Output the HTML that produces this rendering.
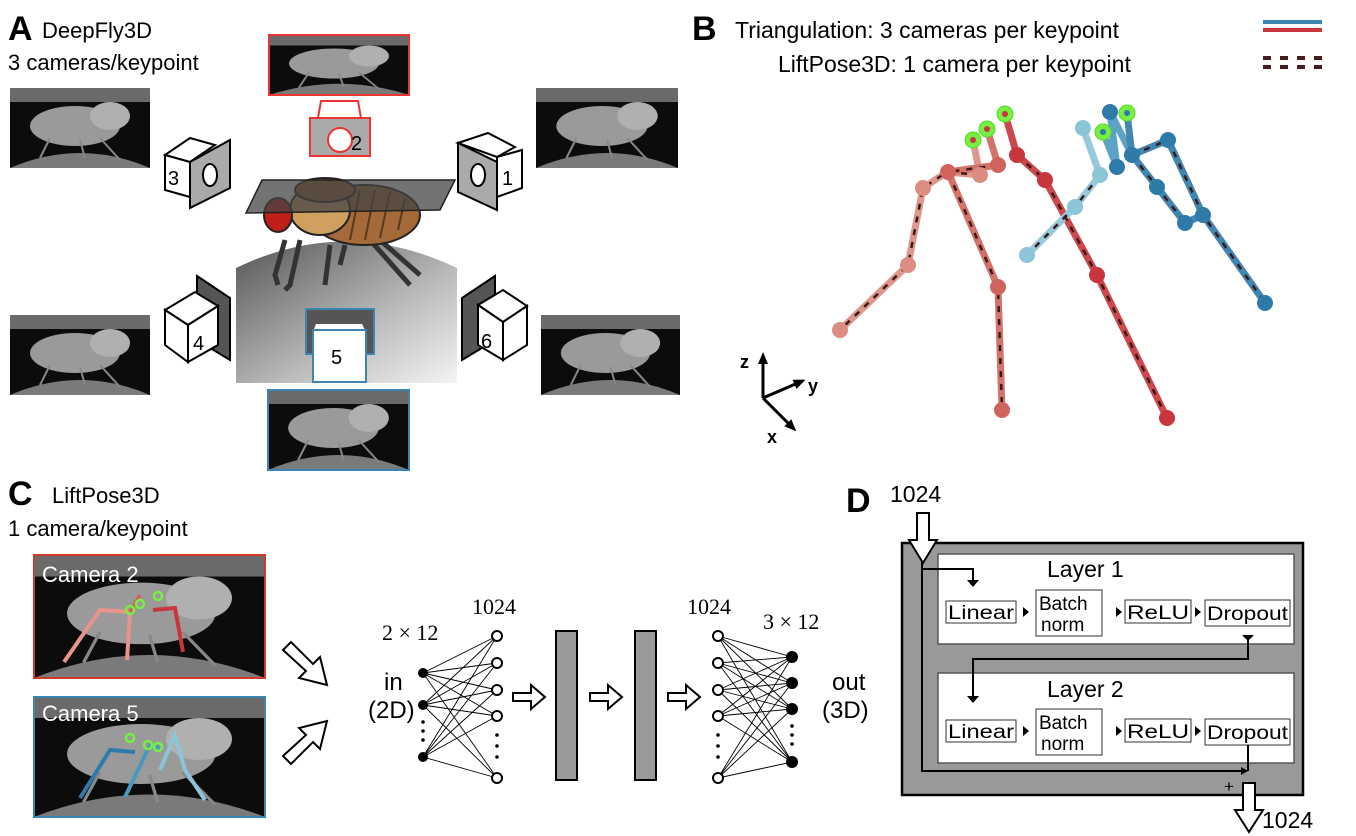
<!DOCTYPE html>
<html><head><meta charset="utf-8"><style>
html,body{margin:0;padding:0;background:#fff;}
svg{display:block;font-family:"Liberation Sans",sans-serif;}
</style></head><body>
<svg width="1356" height="836" viewBox="0 0 1356 836" xmlns="http://www.w3.org/2000/svg">
<defs>
<symbol id="th" viewBox="0 0 140 80" preserveAspectRatio="none">
<rect width="140" height="80" fill="#0c0c0c"/>
<rect width="140" height="14" fill="#6a6a6a"/>
<ellipse cx="65" cy="38" rx="45" ry="20" fill="#9a9a9a"/>
<ellipse cx="100" cy="28" rx="20" ry="14" fill="#b0b0b0"/>
<path d="M0 80 Q70 50 140 80Z" fill="#7a7a7a"/>
<g stroke="#888" stroke-width="2"><line x1="40" y1="50" x2="30" y2="70"/><line x1="70" y1="52" x2="75" y2="70"/><line x1="90" y1="50" x2="110" y2="72"/></g>
</symbol>
<linearGradient id="dome" x1="0" y1="0" x2="1" y2="1"><stop offset="0" stop-color="#555"/><stop offset="0.6" stop-color="#bbb"/><stop offset="1" stop-color="#f4f4f4"/></linearGradient>
<marker id="ah" markerUnits="userSpaceOnUse" markerWidth="12" markerHeight="12" refX="6" refY="6" orient="auto"><path d="M0,1 L12,6 L0,11Z" fill="#000"/></marker>
</defs>

<!-- Panel A -->
<text x="8" y="40" font-size="34" font-weight="bold">A</text>
<text x="42" y="38" font-size="22">DeepFly3D</text>
<text x="8" y="70" font-size="22">3 cameras/keypoint</text>
<use href="#th" x="10" y="88" width="140" height="80"/>
<use href="#th" x="536" y="88" width="142" height="80"/>
<use href="#th" x="10" y="315" width="140" height="80"/>
<use href="#th" x="541" y="315" width="139" height="80"/>
<use href="#th" x="269" y="35" width="140" height="60"/>
<rect x="269" y="35" width="140" height="60" fill="none" stroke="#e33" stroke-width="2"/>
<use href="#th" x="268" y="390" width="141" height="80"/>
<rect x="268" y="390" width="141" height="80" fill="none" stroke="#3a86b0" stroke-width="2"/>
<path d="M236 268 Q346 215 457 268 L457 383 L236 383Z" fill="url(#dome)"/>
<path d="M321 101 L358 101 L361 118 L318 118Z" fill="#fff" stroke="#e33" stroke-width="2"/>
<rect x="310" y="118" width="60" height="38" fill="#aaa" stroke="#e33" stroke-width="2"/>
<circle cx="340" cy="140" r="12" fill="#fff" stroke="#e33" stroke-width="2"/>
<text x="351" y="150" font-size="20">2</text>
<path d="M165 155 L190 138 L215 145 L190 162Z" fill="#fff" stroke="#000" stroke-width="2"/>
<path d="M165 155 L190 162 L190 197 L165 190Z" fill="#fff" stroke="#000" stroke-width="2"/>
<path d="M190 162 L230 140 L230 188 L190 208Z" fill="#aaa" stroke="#000" stroke-width="2"/>
<text x="168" y="185" font-size="20">3</text>
<ellipse cx="210" cy="175" rx="7" ry="11" fill="#fff" stroke="#000" stroke-width="2"/>
<path d="M458 143 L488 133 L515 147 L497 157Z" fill="#fff" stroke="#000" stroke-width="2"/>
<path d="M497 157 L522 150 L522 188 L497 197Z" fill="#fff" stroke="#000" stroke-width="2"/>
<path d="M458 143 L497 162 L497 210 L458 192Z" fill="#aaa" stroke="#000" stroke-width="2"/>
<ellipse cx="478" cy="175" rx="7" ry="11" fill="#fff" stroke="#000" stroke-width="2"/>
<text x="502" y="185" font-size="20">1</text>
<path d="M197 276 L230 298 L230 360 L197 340Z" fill="#555" stroke="#000" stroke-width="2"/>
<path d="M165 310 L195 292 L218 306 L188 325Z" fill="#fff" stroke="#000" stroke-width="2"/>
<path d="M165 310 L188 325 L188 362 L165 345Z" fill="#fff" stroke="#000" stroke-width="2"/>
<path d="M188 325 L218 306 L218 345 L188 362Z" fill="#fff" stroke="#000" stroke-width="2"/>
<text x="193" y="350" font-size="20">4</text>
<path d="M495 276 L462 298 L462 360 L495 340Z" fill="#555" stroke="#000" stroke-width="2"/>
<path d="M478 305 L503 290 L527 306 L503 322Z" fill="#fff" stroke="#000" stroke-width="2"/>
<path d="M478 305 L503 322 L503 360 L478 345Z" fill="#fff" stroke="#000" stroke-width="2"/>
<path d="M503 322 L527 306 L527 345 L503 360Z" fill="#fff" stroke="#000" stroke-width="2"/>
<text x="481" y="348" font-size="20">6</text>
<rect x="306" y="309" width="68" height="45" fill="#555" stroke="#3a86b0" stroke-width="2"/>
<path d="M316 324 L362 324 L366 332 L313 332Z" fill="#fff"/>
<rect x="313" y="330" width="53" height="52" fill="#fff" stroke="#3a86b0" stroke-width="2"/>
<text x="331" y="364" font-size="20">5</text>
<g stroke="#222" stroke-width="2">
<g stroke-width="5" stroke="#333" fill="none"><path d="M285 240 L275 275 L278 285"/><path d="M300 240 L290 285 L285 290"/><path d="M330 245 L325 285"/><path d="M345 245 L340 265"/><path d="M380 240 L420 275"/><path d="M370 240 L410 285"/></g>
<ellipse cx="365" cy="215" rx="55" ry="30" fill="#a56a3a"/>
<g stroke="#5a3a1a" stroke-width="2"><line x1="360" y1="190" x2="350" y2="240"/><line x1="375" y1="190" x2="365" y2="240"/><line x1="390" y1="192" x2="380" y2="238"/><line x1="405" y1="198" x2="398" y2="230"/></g>
<ellipse cx="320" cy="210" rx="30" ry="25" fill="#d0a060"/>
<ellipse cx="325" cy="190" rx="30" ry="12" fill="#9a6030"/>
<ellipse cx="278" cy="215" rx="14" ry="17" fill="#c0201a"/>
</g>
<path d="M262 180 L455 180 L440 210 L246 213Z" fill="#444" fill-opacity="0.75" stroke="#222" stroke-width="1.5"/>

<!-- Panel B -->
<text x="692" y="40" font-size="34" font-weight="bold">B</text>
<text x="735" y="38" font-size="23">Triangulation: 3 cameras per keypoint</text>
<text x="778" y="72" font-size="23">LiftPose3D: 1 camera per keypoint</text>
<line x1="1263" y1="22" x2="1322" y2="22" stroke="#3a86b0" stroke-width="4"/>
<line x1="1263" y1="30" x2="1322" y2="30" stroke="#c8353a" stroke-width="4"/>
<line x1="1263" y1="58" x2="1322" y2="58" stroke="#4a1a20" stroke-width="4" stroke-dasharray="8 9"/>
<line x1="1263" y1="67" x2="1322" y2="67" stroke="#4a1a20" stroke-width="4" stroke-dasharray="8 9"/>
<g fill="none" stroke-width="7" stroke-linejoin="round" stroke-linecap="round" opacity="0.9">
<polyline points="973,140 980,175 947,172 923,188 908,265 840,330" stroke="#dc8c80"/>
<polyline points="987,129 998,165 948,172 998,287 1002,410" stroke="#d0645c"/>
<polyline points="1005,114 1017,155 1045,180 1097,275 1167,418" stroke="#c8353a"/>
<polyline points="1083,128 1100,175 1075,207 1027,255" stroke="#8cc4d8"/>
<polyline points="1103,132 1117,167 1110,112 1132,155" stroke="#4a98c0"/>
<polyline points="1127,113 1132,155 1168,140 1203,215 1265,303" stroke="#2e7aa8"/>
<polyline points="1132,155 1157,187 1185,223 1203,215" stroke="#2e7aa8"/>
</g>
<g fill="none" stroke="#3a1a1a" stroke-width="2.5" stroke-dasharray="6 7">
<polyline points="980,175 947,172 923,188 908,265 840,330"/>
<polyline points="998,165 948,172 998,287 1002,410"/>
<polyline points="1017,155 1045,180 1097,275 1167,418"/>
<polyline points="1100,175 1075,207 1027,255"/>
<polyline points="1132,155 1168,140 1203,215 1265,303"/>
<polyline points="1132,155 1157,187 1185,223"/>
</g>
<g>
<g fill="#dc8c80"><circle cx="980" cy="175" r="8"/><circle cx="923" cy="188" r="8"/><circle cx="908" cy="265" r="8"/><circle cx="840" cy="330" r="8"/></g>
<g fill="#d0645c"><circle cx="998" cy="165" r="8"/><circle cx="948" cy="172" r="8"/><circle cx="998" cy="287" r="8"/><circle cx="1002" cy="410" r="8"/></g>
<g fill="#c8353a"><circle cx="1017" cy="155" r="8"/><circle cx="1045" cy="180" r="8"/><circle cx="1097" cy="275" r="8"/><circle cx="1167" cy="418" r="8"/></g>
<g fill="#8cc4d8"><circle cx="1083" cy="128" r="8"/><circle cx="1100" cy="175" r="8"/><circle cx="1075" cy="207" r="8"/><circle cx="1027" cy="255" r="8"/></g>
<g fill="#2e7aa8"><circle cx="1110" cy="112" r="8"/><circle cx="1117" cy="167" r="8"/><circle cx="1132" cy="155" r="8"/><circle cx="1168" cy="140" r="8"/><circle cx="1203" cy="215" r="8"/><circle cx="1265" cy="303" r="8"/><circle cx="1157" cy="187" r="8"/><circle cx="1185" cy="223" r="8"/></g>
<g fill="#7e4" stroke="#5d2" stroke-width="1"><circle cx="973" cy="140" r="8"/><circle cx="987" cy="129" r="8"/><circle cx="1005" cy="114" r="8"/><circle cx="1103" cy="132" r="8"/><circle cx="1127" cy="113" r="8"/></g>
<g fill="#c8353a"><circle cx="973" cy="140" r="3"/><circle cx="987" cy="129" r="3"/><circle cx="1005" cy="114" r="3"/></g>
<g fill="#2e7aa8"><circle cx="1103" cy="132" r="3"/><circle cx="1127" cy="113" r="3"/></g>
</g>
<g stroke="#000" stroke-width="3" fill="none">
<line x1="763" y1="398" x2="763" y2="358" marker-end="url(#ah)"/>
<line x1="763" y1="398" x2="800" y2="382" marker-end="url(#ah)"/>
<line x1="763" y1="398" x2="792" y2="427" marker-end="url(#ah)"/>
</g>
<text x="740" y="368" font-size="18" font-weight="bold">z</text>
<text x="808" y="392" font-size="18" font-weight="bold">y</text>
<text x="767" y="443" font-size="18" font-weight="bold">x</text>

<!-- Panel C -->
<text x="8" y="505" font-size="34" font-weight="bold">C</text>
<text x="52" y="503" font-size="22">LiftPose3D</text>
<text x="8" y="536" font-size="22">1 camera/keypoint</text>
<use href="#th" x="34" y="555" width="231" height="123"/>
<rect x="34" y="555" width="231" height="123" fill="none" stroke="#d03a2a" stroke-width="2"/>
<g fill="none" stroke-width="4"><polyline points="64,662 100,610 130,612 127,660" stroke="#e8948a"/><polyline points="153,610 175,608 183,652" stroke="#c8353a"/><polyline points="130,612 140,595" stroke="#d0645c"/></g>
<g fill="none" stroke="#7e4" stroke-width="2.5"><circle cx="130" cy="610" r="4"/><circle cx="140" cy="604" r="4"/><circle cx="158" cy="596" r="4"/></g>
<text x="42" y="582" font-size="22" fill="#fff">Camera 2</text>
<use href="#th" x="34" y="697" width="231" height="120"/>
<rect x="34" y="697" width="231" height="120" fill="none" stroke="#3a86b0" stroke-width="2"/>
<g fill="none" stroke-width="4"><polyline points="80,798 110,750 135,752" stroke="#2e7aa8"/><polyline points="125,797 150,745 160,748" stroke="#4a98c0"/><polyline points="160,770 175,735 185,770 205,800" stroke="#8cc4d8"/></g>
<g fill="none" stroke="#7e4" stroke-width="2.5"><circle cx="130" cy="738" r="4"/><circle cx="148" cy="745" r="4"/><circle cx="158" cy="747" r="4"/></g>
<text x="42" y="721" font-size="22" fill="#fff">Camera 5</text>
<g fill="#fff" stroke="#000" stroke-width="2">
<path d="M283 650 L291 642 L313 664 L320 657 L327 685 L299 678 L306 671 L283 650Z"/>
<path d="M283 756 L291 764 L313 742 L320 749 L327 721 L299 728 L306 735 L283 756Z"/>
<path d="M513 693 L531 693 L531 685 L545 697 L531 709 L531 701 L513 701Z"/>
<path d="M590 693 L608 693 L608 685 L622 697 L608 709 L608 701 L590 701Z"/>
<path d="M668 693 L686 693 L686 685 L700 697 L686 709 L686 701 L668 701Z"/>
</g>
<text x="384" y="690" font-size="24">in</text>
<text x="368" y="718" font-size="24">(2D)</text>
<text x="382" y="640" font-size="22" font-family="Liberation Serif">2 × 12</text>
<text x="472" y="614" font-size="22" font-family="Liberation Serif">1024</text>
<text x="687" y="614" font-size="22" font-family="Liberation Serif">1024</text>
<text x="763" y="629" font-size="22" font-family="Liberation Serif">3 × 12</text>
<text x="832" y="690" font-size="24">out</text>
<text x="822" y="718" font-size="24">(3D)</text>
<g stroke="#000" stroke-width="0.9">
<path d="M423 673 L497 636 M423 673 L497 663 M423 673 L497 690 M423 673 L497 716 M423 673 L497 778
M423 705 L497 636 M423 705 L497 663 M423 705 L497 690 M423 705 L497 716 M423 705 L497 778
M423 757 L497 636 M423 757 L497 663 M423 757 L497 690 M423 757 L497 716 M423 757 L497 778"/>
<path d="M718 636 L792 657 M718 636 L792 683 M718 636 L792 709 M718 636 L792 762
M718 663 L792 657 M718 663 L792 683 M718 663 L792 709 M718 663 L792 762
M718 690 L792 657 M718 690 L792 683 M718 690 L792 709 M718 690 L792 762
M718 716 L792 657 M718 716 L792 683 M718 716 L792 709 M718 716 L792 762
M718 778 L792 657 M718 778 L792 683 M718 778 L792 709 M718 778 L792 762"/>
</g>
<g fill="#000"><circle cx="423" cy="673" r="5"/><circle cx="423" cy="705" r="5"/><circle cx="423" cy="757" r="5"/>
<circle cx="423" cy="722" r="1.8"/><circle cx="423" cy="731" r="1.8"/><circle cx="423" cy="740" r="1.8"/>
<circle cx="792" cy="657" r="6"/><circle cx="792" cy="683" r="6"/><circle cx="792" cy="709" r="6"/><circle cx="792" cy="762" r="6"/>
<circle cx="792" cy="726" r="1.8"/><circle cx="792" cy="735" r="1.8"/><circle cx="792" cy="744" r="1.8"/>
<circle cx="497" cy="735" r="1.8"/><circle cx="497" cy="746" r="1.8"/><circle cx="497" cy="757" r="1.8"/>
<circle cx="718" cy="735" r="1.8"/><circle cx="718" cy="746" r="1.8"/><circle cx="718" cy="757" r="1.8"/></g>
<g fill="#fff" stroke="#000" stroke-width="2">
<circle cx="497" cy="636" r="5"/><circle cx="497" cy="663" r="5"/><circle cx="497" cy="690" r="5"/><circle cx="497" cy="716" r="5"/><circle cx="497" cy="778" r="5"/>
<circle cx="718" cy="636" r="5"/><circle cx="718" cy="663" r="5"/><circle cx="718" cy="690" r="5"/><circle cx="718" cy="716" r="5"/><circle cx="718" cy="778" r="5"/>
</g>
<rect x="556" y="631" width="21" height="149" fill="#999" stroke="#000" stroke-width="2"/>
<rect x="635" y="631" width="21" height="149" fill="#999" stroke="#000" stroke-width="2"/>

<!-- Panel D -->
<text x="846" y="512" font-size="34" font-weight="bold">D</text>
<text x="890" y="502" font-size="23">1024</text>
<rect x="902" y="543" width="401" height="252" fill="#999" stroke="#000" stroke-width="2.5"/>
<rect x="938" y="554" width="356" height="90" fill="#fff" stroke="#555" stroke-width="1.5"/>
<rect x="938" y="673" width="356" height="90" fill="#fff" stroke="#555" stroke-width="1.5"/>
<text x="1047" y="577" font-size="23">Layer 1</text>
<text x="1047" y="697" font-size="23">Layer 2</text>
<g font-size="19">
<g>
<rect x="946" y="601" width="70" height="22" fill="#fff" stroke="#333"/><text x="948" y="619" textLength="66" lengthAdjust="spacingAndGlyphs">Linear</text>
<rect x="1036" y="590" width="66" height="46" fill="#fff" stroke="#333"/><text x="1039" y="610">Batch</text><text x="1041" y="631">norm</text>
<rect x="1125" y="600" width="66" height="23" fill="#fff" stroke="#333"/><text x="1127" y="619" textLength="62" lengthAdjust="spacingAndGlyphs">ReLU</text>
<rect x="1205" y="600" width="85" height="26" fill="#fff" stroke="#333"/><text x="1207" y="620" textLength="81" lengthAdjust="spacingAndGlyphs">Dropout</text>
<path d="M1023 607 L1029 612 L1023 617Z M1116 607 L1122 612 L1116 617Z M1195 607 L1201 612 L1195 617Z"/>
</g>
<g transform="translate(0,119)">
<rect x="946" y="601" width="70" height="22" fill="#fff" stroke="#333"/><text x="948" y="619" textLength="66" lengthAdjust="spacingAndGlyphs">Linear</text>
<rect x="1036" y="590" width="66" height="46" fill="#fff" stroke="#333"/><text x="1039" y="610">Batch</text><text x="1041" y="631">norm</text>
<rect x="1125" y="600" width="66" height="23" fill="#fff" stroke="#333"/><text x="1127" y="619" textLength="62" lengthAdjust="spacingAndGlyphs">ReLU</text>
<rect x="1205" y="600" width="85" height="26" fill="#fff" stroke="#333"/><text x="1207" y="620" textLength="81" lengthAdjust="spacingAndGlyphs">Dropout</text>
<path d="M1023 607 L1029 612 L1023 617Z M1116 607 L1122 612 L1116 617Z M1195 607 L1201 612 L1195 617Z"/>
</g>
</g>
<g fill="none" stroke="#000" stroke-width="2">
<polyline points="922,560 922,771 1245,771"/>
<polyline points="922,569 973,569 973,580"/>
<polyline points="1248,636 1248,659 973,659 973,697"/>
<polyline points="1248,745 1248,771"/>
</g>
<path d="M967 580 L979 580 L973 587Z M967 696 L979 696 L973 703Z M1242 635 L1254 635 L1248 641Z M1241 767 L1248 771 L1241 775Z"/>
<text x="1224" y="792" font-size="17">+</text>
<path d="M917 513 L929 513 L929 540 L937 540 L923 563 L909 540 L917 540Z" fill="#fff" stroke="#000" stroke-width="2"/>
<path d="M1243 783 L1255 783 L1255 810 L1263 810 L1249 832 L1235 810 L1243 810Z" fill="#fff" stroke="#000" stroke-width="2"/>
<text x="1262" y="828" font-size="23">1024</text>
</svg>
</body></html>
